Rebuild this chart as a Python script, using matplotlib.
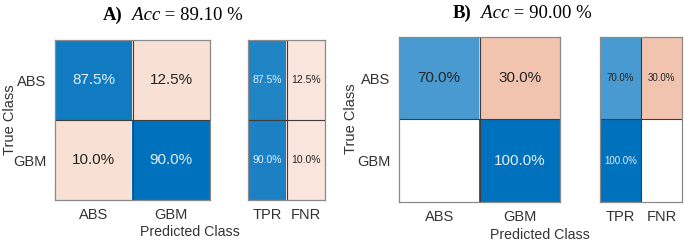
import numpy as np
import matplotlib
matplotlib.use("Agg")
import matplotlib.pyplot as plt

plt.rcParams["font.family"] = ["Liberation Sans", "DejaVu Sans"]

# ---------------------------------------------------------------------------
# Data
# ---------------------------------------------------------------------------
classes = ["ABS", "GBM"]
rate_labels = ["TPR", "FNR"]

conf_a = [[87.5, 12.5], [10.0, 90.0]]
rates_a = [[87.5, 12.5], [90.0, 10.0]]
acc_a = 89.10

conf_b = [[70.0, 30.0], [0.0, 100.0]]
rates_b = [[70.0, 30.0], [100.0, 0.0]]
acc_b = 90.00

# shade of each cell (0 = white, 1 = full colour), as seen in the picture
shade_conf_a = [[0.93, 0.18], [0.18, 1.0]]
shade_rates_a = [[0.87, 0.15], [0.89, 0.15]]
shade_conf_b = [[0.71, 0.34], [0.0, 1.0]]
shade_rates_b = [[0.71, 0.34], [1.0, 0.0]]

BLUE = np.array([0, 114, 189]) / 255
ORANGE = np.array([217, 83, 25]) / 255
EDGE = "#8a8a8a"
GRID = "#3c3c3c"
DARK_TEXT = "#262626"
LIGHT_TEXT = "#e4eef8"


def cell_rgb(shades, good):
    """RGB image: blue for the 'good' cells, orange for the errors."""
    shades = np.asarray(shades)
    img = np.ones(shades.shape + (3,))
    for i in range(shades.shape[0]):
        for j in range(shades.shape[1]):
            base = BLUE if good(i, j) else ORANGE
            img[i, j] = 1 - shades[i, j] * (1 - base)
    return img


def draw_matrix(ax, values, shades, good, fontsize, xlabels, ylabels=None):
    values = np.asarray(values)
    ax.imshow(cell_rgb(shades, good), aspect="auto", interpolation="nearest")
    for i in range(values.shape[0]):
        for j in range(values.shape[1]):
            v = values[i, j]
            if v == 0:
                continue
            colour = LIGHT_TEXT if good(i, j) and shades[i][j] > 0.8 else DARK_TEXT
            ax.text(j, i, f"{v:.1f}%", ha="center", va="center",
                    fontsize=fontsize, color=colour)
    ax.axhline(0.5, color=GRID, linewidth=0.8)
    ax.axvline(0.5, color=GRID, linewidth=0.8)
    ax.set_xticks(range(len(xlabels)))
    ax.set_xticklabels(xlabels, fontsize=10.5, color="#333333")
    if ylabels is None:
        ax.set_yticks([])
    else:
        ax.set_yticks(range(len(ylabels)))
        ax.set_yticklabels(ylabels, fontsize=10.5, color="#333333")
    ax.tick_params(length=0, pad=6)
    for s in ax.spines.values():
        s.set_color(EDGE)
        s.set_linewidth(0.9)


def title(fig, x, y, letter, acc):
    """Bold letter, italic 'Acc', upright value, all on one baseline."""
    t1 = fig.text(x, y, letter, fontsize=13.5, fontweight="bold",
                  family="Liberation Serif", va="baseline")
    t2 = fig.text(0, 0, "  Acc", fontsize=13.5, style="italic",
                  family="Liberation Serif", va="baseline")
    t3 = fig.text(0, 0, " = " + f"{acc:.2f} %", fontsize=13.5,
                  family="Liberation Serif", va="baseline")
    fig.canvas.draw()
    r = fig.canvas.get_renderer()
    inv = fig.transFigure.inverted()
    x1 = inv.transform((t1.get_window_extent(r).x1, 0))[0]
    t2.set_position((x1, y))
    x2 = inv.transform((t2.get_window_extent(r).x1, 0))[0]
    t3.set_position((x2, y))


W, H = 685, 245
fig = plt.figure(figsize=(W / 100, H / 100), dpi=100)


def box(x0, y0, x1, y1):
    return [x0 / W, 1 - y1 / H, (x1 - x0) / W, (y1 - y0) / H]


ax_a = fig.add_axes(box(55, 40, 210, 200))
ax_a2 = fig.add_axes(box(248, 40, 325, 200))
ax_b = fig.add_axes(box(399, 37, 560, 202))
ax_b2 = fig.add_axes(box(600, 37, 682, 202))

diag = lambda i, j: i == j
first_col = lambda i, j: j == 0

draw_matrix(ax_a, conf_a, shade_conf_a, diag, 11, classes, classes)
draw_matrix(ax_a2, rates_a, shade_rates_a, first_col, 7.5, rate_labels)
draw_matrix(ax_b, conf_b, shade_conf_b, diag, 11, classes, classes)
draw_matrix(ax_b2, rates_b, shade_rates_b, first_col, 7, rate_labels)

for x, y in [(10, 120), (351, 119)]:
    fig.text(x / W, 1 - y / H, "True Class", rotation=90, fontsize=10.5,
             ha="center", va="center", color="#333333")
for x, y in [(190, 232), (540, 235)]:
    fig.text(x / W, 1 - y / H, "Predicted Class", fontsize=10.2,
             ha="center", va="center", color="#333333")

title(fig, 103 / W, 1 - 20 / H, "A)", acc_a)
title(fig, 453 / W, 1 - 18 / H, "B)", acc_b)

fig.savefig("out.png", dpi=100)
